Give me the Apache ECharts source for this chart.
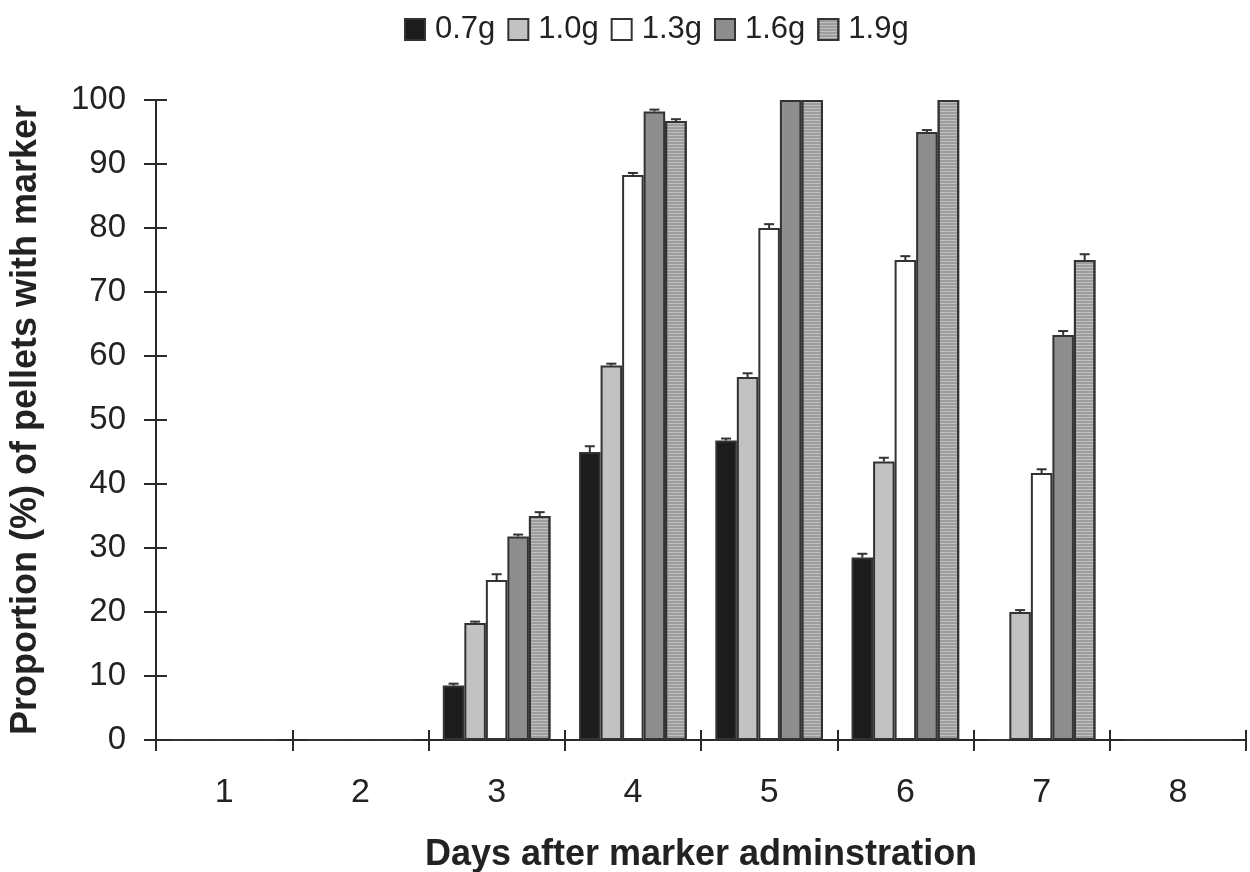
<!DOCTYPE html>
<html>
<head>
<meta charset="utf-8">
<script src="https://cdn.jsdelivr.net/npm/echarts@6/dist/echarts.min.js"></script>
<style>
  html, body { margin: 0; padding: 0; background: #fff; }
  #chart { width: 1250px; height: 872px; }
</style>
</head>
<body>
<div id="chart"></div>
<script>
  // categories and series
  const days = ['1', '2', '3', '4', '5', '6', '7', '8'];
  const doses = ['0.7g', '1.0g', '1.3g', '1.6g', '1.9g'];
  const val07 = [0, 0, 8.5, 45, 46.8, 28.5, 0, 0];
  const val10 = [0, 0, 18.3, 58.5, 56.7, 43.5, 20, 0];
  const val13 = [0, 0, 25, 88.3, 80, 75, 41.7, 0];
  const val16 = [0, 0, 31.8, 98.2, 100, 95, 63.3, 0];
  const val19 = [0, 0, 35, 96.7, 100, 100, 75, 0];
  // upper error bars
  const err07 = [0, 0, 0.3, 0.9, 0.3, 0.6, 0, 0];
  const err10 = [0, 0, 0.2, 0.3, 0.6, 0.6, 0.3, 0];
  const err13 = [0, 0, 0.9, 0.3, 0.6, 0.6, 0.6, 0];
  const err16 = [0, 0, 0.3, 0.3, 0, 0.3, 0.6, 0];
  const err19 = [0, 0, 0.6, 0.3, 0, 0, 0.9, 0];
  const yTicks = [0, 10, 20, 30, 40, 50, 60, 70, 80, 90, 100];

  const values = [val07, val10, val13, val16, val19];
  const errors = [err07, err10, err13, err16, err19];
  const fills = ['#1c1c1c', '#c2c2c2', '#ffffff', '#8e8e8e', '#9d9d9d'];
  const catGap = 0.21;
  const font = 'Liberation Sans, Arial, sans-serif';

  const barSeries = doses.map((name, i) => {
    const style = { color: fills[i], borderColor: '#333', borderWidth: 2 };
    if (i === 4) {
      style.decal = {
        symbol: 'rect',
        symbolSize: 1,
        dashArrayX: [1, 0],
        dashArrayY: [1, 2],
        color: 'rgba(255,255,255,0.35)'
      };
    }
    return {
      name: name,
      type: 'bar',
      data: values[i],
      barGap: '0%',
      barCategoryGap: (catGap * 100) + '%',
      itemStyle: style,
      emphasis: { disabled: true },
      z: 2
    };
  });

  const errSeries = doses.map((name, i) => ({
    type: 'custom',
    name: 'err' + i,
    z: 3,
    silent: true,
    data: values[i].map((v, k) => [k, v, errors[i][k]]),
    renderItem(params, api) {
      const k = api.value(0), v = api.value(1), e = api.value(2);
      if (!v || !e) return;
      const catW = api.size([1, 0])[0];
      const bw = catW * (1 - catGap) / 5;
      const cx = api.coord([k, 0])[0] - catW * (1 - catGap) / 2 + bw * (i + 0.5);
      const y0 = api.coord([k, v])[1];
      const y1 = api.coord([k, v + e])[1];
      const st = { stroke: '#333', lineWidth: 2 };
      return {
        type: 'group',
        children: [
          { type: 'line', shape: { x1: cx, y1: y0, x2: cx, y2: y1 }, style: st },
          { type: 'line', shape: { x1: cx - 5, y1: y1, x2: cx + 5, y2: y1 }, style: st }
        ]
      };
    }
  }));

  const axisColor = '#2a2a2a';
  const chart = echarts.init(document.getElementById('chart'));
  chart.setOption({
    animation: false,
    textStyle: { fontFamily: font },
    legend: {
      data: doses,
      icon: 'rect',
      top: 9,
      left: 399,
      itemWidth: 20,
      itemHeight: 21,
      itemGap: 12,
      textStyle: { fontSize: 31, color: '#222', fontFamily: font, padding: [0, 0, 0, 5] }
    },
    grid: { left: 156, right: 4, top: 100, bottom: 132, outerBoundsMode: 'none' },
    xAxis: [{
      type: 'category',
      data: days,
      name: 'Days after marker adminstration',
      nameLocation: 'middle',
      nameGap: 97,
      nameTextStyle: { fontSize: 36, fontWeight: 'bold', color: '#222' },
      axisLine: { lineStyle: { color: axisColor, width: 2 } },
      axisTick: { show: false },
      axisLabel: { fontSize: 34, color: '#222', margin: 36 }
    }, {
      type: 'category',
      data: days,
      position: 'bottom',
      offset: 11,
      axisLine: { show: false, onZero: false },
      axisTick: { show: true, inside: true, length: 21, lineStyle: { color: axisColor, width: 2 } },
      axisLabel: { show: false }
    }],
    yAxis: [{
      type: 'value',
      min: yTicks[0],
      max: yTicks[yTicks.length - 1],
      interval: 10,
      name: 'Proportion (%) of pellets with marker',
      nameLocation: 'middle',
      nameGap: 112,
      nameTextStyle: { fontSize: 36, fontWeight: 'bold', color: '#222' },
      axisLine: { show: true, lineStyle: { color: axisColor, width: 2 } },
      axisTick: { show: false },
      axisLabel: { fontSize: 33, color: '#222', margin: 30 },
      splitLine: { show: false }
    }, {
      type: 'value',
      min: yTicks[0],
      max: yTicks[yTicks.length - 1],
      interval: 10,
      position: 'left',
      offset: 12,
      axisLine: { show: false },
      axisTick: { show: true, inside: true, length: 23, lineStyle: { color: axisColor, width: 2 } },
      axisLabel: { show: false },
      splitLine: { show: false }
    }],
    series: barSeries.concat(errSeries)
  });
</script>
</body>
</html>
